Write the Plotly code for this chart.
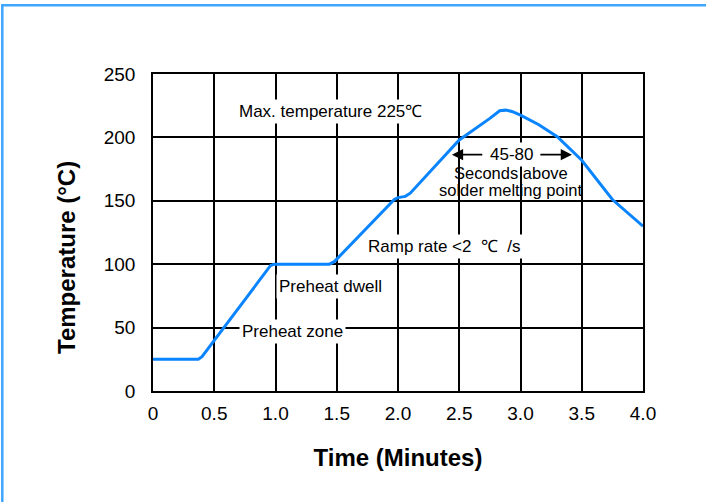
import plotly.graph_objects as go

# Reflow profile data (time in minutes, temperature in °C)
time_min = [0, 0.37, 0.40, 0.96, 0.99, 1.44, 1.48, 1.97, 2.00, 2.06, 2.10,
            2.50, 2.75, 2.83, 2.88, 2.93, 3.00, 3.15, 3.30, 3.50, 3.75, 4.0]
temp_c = [25, 25, 27, 99, 100, 100, 102, 151, 152.5, 153.5, 156,
          198, 215, 221, 221.5, 220.5, 217.5, 210, 200.5, 182, 151, 130]

x_ticks = [0, 0.5, 1.0, 1.5, 2.0, 2.5, 3.0, 3.5, 4.0]
x_tick_labels = ["0", "0.5", "1.0", "1.5", "2.0", "2.5", "3.0", "3.5", "4.0"]
y_ticks = [0, 50, 100, 150, 200, 250]

FONT = "Liberation Sans, Arial, sans-serif"

fig = go.Figure()
fig.add_trace(go.Scatter(x=time_min, y=temp_c, mode="lines",
                         line=dict(color="#0a84ff", width=3),
                         hoverinfo="skip", showlegend=False))


def label(text, x, y, bg=True, size=17):
    fig.add_annotation(x=x, y=y, xref="x", yref="y", text=text, showarrow=False,
                       font=dict(family=FONT, size=size, color="black"),
                       bgcolor="white" if bg else None, borderpad=2)

label("Max. temperature 225℃", 1.447, 220.5)
label("Ramp rate &lt;2&nbsp; ℃&nbsp; /s", 2.38, 114)
label("Preheat dwell", 1.447, 82.5)
label("Preheat zone", 1.135, 47)
label("45-80", 2.925, 186.4)
label("Seconds above", 2.92, 172, bg=False, size=16.5)
label("solder melting point", 2.92, 158.8, bg=False, size=16.5)

# arrows of the 45-80 span
for tail, tip in [(2.70, 2.44), (3.15, 3.42)]:
    fig.add_annotation(x=tip, y=186.4, ax=tail, ay=186.4, xref="x", yref="y",
                       axref="x", ayref="y", text="", showarrow=True,
                       arrowhead=2, arrowsize=1.4, arrowwidth=1.6,
                       arrowcolor="black")

# y axis title
fig.add_annotation(x=(66 - 152.7) / 490, y=(391.3 - 258) / 317,
                   xref="paper", yref="paper", xanchor="center", yanchor="middle",
                   text="<b>Temperature (°C)</b>", showarrow=False, textangle=-90,
                   font=dict(family=FONT, size=24, color="black"))

# outer blue frame
fig.add_shape(type="rect", xref="paper", yref="paper", x0=(2 - 152.7) / 490, x1=2,
              y0=-2, y1=(391.3 - 5.5) / 317, line=dict(color="#3ea6ff", width=2.5),
              fillcolor="rgba(0,0,0,0)", layer="above")

fig.update_xaxes(range=[0, 4], tickvals=x_ticks, ticktext=x_tick_labels,
                 showgrid=True, gridcolor="black", gridwidth=1.5,
                 showline=True, linecolor="black", linewidth=1.5, mirror=True,
                 ticks="", zeroline=False, ticklabelstandoff=4,
                 tickfont=dict(family=FONT, size=19, color="black"),
                 title=dict(text="<b>Time (Minutes)</b>",
                            font=dict(family=FONT, size=24, color="black"),
                            standoff=27))
fig.update_yaxes(range=[0, 250], tickvals=y_ticks,
                 showgrid=True, gridcolor="black", gridwidth=1.5,
                 showline=True, linecolor="black", linewidth=1.5, mirror=True,
                 ticks="", zeroline=False,
                 tickfont=dict(family=FONT, size=19, color="black"),
                 ticklabelstandoff=12)

fig.update_layout(width=706, height=502,
                  margin=dict(l=152.7, r=63.3, t=74.3, b=110.7),
                  plot_bgcolor="white", paper_bgcolor="white",
                  showlegend=False)

fig.write_html("out.html", config={"displayModeBar": False},
               post_script="document.body.style.margin='0';")
